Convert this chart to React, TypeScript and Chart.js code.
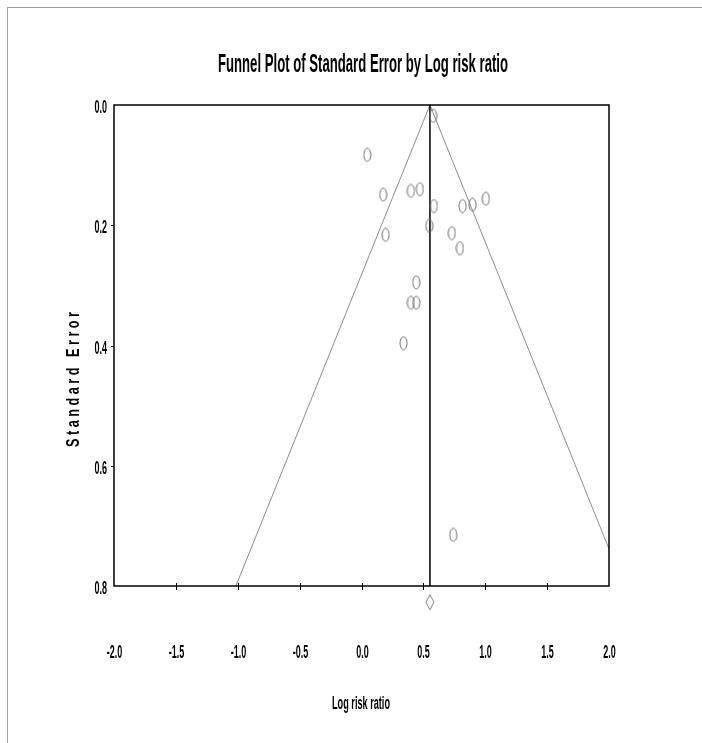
import React, { useEffect, useRef } from "react";
import { Chart, registerables } from "chart.js";
Chart.register(...registerables);

// ---- data ----
const logRiskRatio = [0.579, 0.046, 0.175, 0.399, 0.472, 0.585, 0.817, 0.897, 1.005, 0.195, 0.547, 0.73, 0.795, 0.442, 0.399, 0.442, 0.34, 0.741];
const standardError = [0.018, 0.083, 0.149, 0.143, 0.14, 0.168, 0.168, 0.166, 0.156, 0.216, 0.201, 0.213, 0.238, 0.295, 0.329, 0.329, 0.396, 0.715];
const pooledEffect = 0.553;
const pooledMarkerSE = 0.827;
const funnelZ = 1.96;
const xMin = -2;
const xMax = 2;
const xStep = 0.5;
const seMin = 0;
const seMax = 0.8;
const seStep = 0.2;
const titleText = "Funnel Plot of Standard Error by Log risk ratio";
const xTitle = "Log risk ratio";
const yTitle = "S t a n d a r d   E r r o r";

const FONT = '"Liberation Sans", Arial, sans-serif';

function ellipseCanvas(w: number, h: number, color: string) {
  const c = document.createElement("canvas");
  c.width = w + 2;
  c.height = h + 2;
  const ctx = c.getContext("2d")!;
  ctx.strokeStyle = color;
  ctx.lineWidth = 1;
  ctx.beginPath();
  ctx.ellipse(c.width / 2, c.height / 2, w / 2, h / 2, 0, 0, Math.PI * 2);
  ctx.stroke();
  return c;
}

function diamondCanvas(w: number, h: number, color: string) {
  const c = document.createElement("canvas");
  c.width = w + 2;
  c.height = h + 2;
  const ctx = c.getContext("2d")!;
  ctx.strokeStyle = color;
  ctx.lineWidth = 1;
  ctx.beginPath();
  ctx.moveTo(c.width / 2, 1);
  ctx.lineTo(c.width - 1, c.height / 2);
  ctx.lineTo(c.width / 2, c.height - 1);
  ctx.lineTo(1, c.height / 2);
  ctx.closePath();
  ctx.stroke();
  return c;
}

function drawScaled(
  ctx: CanvasRenderingContext2D,
  text: string,
  x: number,
  y: number,
  size: number,
  opts: { sx?: number; width?: number; align?: CanvasTextAlign; rotate?: number }
) {
  ctx.save();
  ctx.font = `bold ${size}px ${FONT}`;
  ctx.fillStyle = "#000";
  ctx.textBaseline = "alphabetic";
  ctx.textAlign = opts.align || "center";
  const w = ctx.measureText(text).width;
  const sx = opts.width ? opts.width / w : opts.sx || 1;
  ctx.translate(x, y);
  if (opts.rotate) ctx.rotate(opts.rotate);
  ctx.scale(sx, 1);
  ctx.fillText(text, 0, 0);
  ctx.restore();
}

const decorPlugin = {
  id: "decor",
  afterDraw(chart: any) {
    const { ctx, chartArea: a, scales } = chart;
    const xs = scales.x;
    const ys = scales.y;
    ctx.save();
    // frame
    ctx.strokeStyle = "#000";
    ctx.lineWidth = 1.5;
    ctx.strokeRect(a.left, a.top, a.right - a.left, a.bottom - a.top);
    // x tick marks + labels
    ctx.lineWidth = 1;
    xs.ticks.forEach((t: any) => {
      const px = Math.round(xs.getPixelForValue(t.value)) + 0.5;
      if (t.value > xMin + 1e-6 && t.value < xMax - 1e-6) {
        ctx.beginPath();
        ctx.moveTo(px, a.bottom - 3);
        ctx.lineTo(px, a.bottom + 4);
        ctx.stroke();
      }
      drawScaled(ctx, t.value.toFixed(1), px, 658, 18, { sx: 0.5 });
    });
    // y tick marks + labels
    ys.ticks.forEach((t: any) => {
      const py = Math.round(ys.getPixelForValue(t.value)) + 0.5;
      if (t.value > seMin + 1e-6 && t.value < seMax - 1e-6) {
        ctx.beginPath();
        ctx.moveTo(a.left - 3, py);
        ctx.lineTo(a.left, py);
        ctx.stroke();
      }
      drawScaled(ctx, t.value.toFixed(1), 107, py + 7, 18, { sx: 0.5, align: "right" });
    });
    ctx.restore();
    // titles
    drawScaled(ctx, titleText, 363, 72, 26, { width: 290 });
    drawScaled(ctx, xTitle, 361, 709, 18, { width: 58 });
    drawScaled(ctx, yTitle, 79, 379.5, 18, { width: 135, rotate: -Math.PI / 2 });
  },
};

export default function App() {
  const ref = useRef<HTMLCanvasElement>(null);
  useEffect(() => {
    const ellipse = ellipseCanvas(7, 13, "#6e6e6e");
    const diamond = diamondCanvas(8, 15, "#7a7a7a");
    const leftEnd = { x: pooledEffect - funnelZ * seMax, y: seMax };
    const rightEnd = { x: xMax, y: (xMax - pooledEffect) / funnelZ };
    const chart = new Chart(ref.current!, {
      type: "scatter",
      data: {
        datasets: [
          {
            label: "Studies",
            data: logRiskRatio.map((v, i) => ({ x: v, y: standardError[i] })),
            pointStyle: ellipse as any,
            pointRadius: 7,
            order: 0,
          },
          {
            label: "Pooled",
            data: [{ x: pooledEffect, y: pooledMarkerSE }],
            pointStyle: diamond as any,
            pointRadius: 40,
            clip: false as any,
            order: 1,
          },
          {
            type: "line",
            label: "Effect",
            data: [
              { x: pooledEffect, y: seMin },
              { x: pooledEffect, y: seMax },
            ],
            borderColor: "#000",
            borderWidth: 1.5,
            pointRadius: 0,
            order: 2,
          } as any,
          {
            type: "line",
            label: "Funnel",
            data: [leftEnd, { x: pooledEffect, y: seMin }, rightEnd],
            borderColor: "#8c8c8c",
            borderWidth: 1,
            pointRadius: 0,
            order: 3,
          } as any,
        ],
      },
      options: {
        responsive: false,
        animation: false,
        devicePixelRatio: 1,
        layout: { padding: { top: 105, right: 93, left: 0, bottom: 0 } },
        plugins: { legend: { display: false }, tooltip: { enabled: false }, title: { display: false } },
        scales: {
          x: {
            type: "linear",
            min: xMin,
            max: xMax,
            ticks: { stepSize: xStep, display: false },
            grid: { display: false, drawTicks: false },
            border: { display: false },
            afterFit: (s: any) => {
              s.height = 157;
            },
          },
          y: {
            type: "linear",
            reverse: true,
            min: seMin,
            max: seMax,
            ticks: { stepSize: seStep, display: false },
            grid: { display: false, drawTicks: false },
            border: { display: false },
            afterFit: (s: any) => {
              s.width = 114;
            },
          },
        },
      },
      plugins: [decorPlugin],
    });
    return () => chart.destroy();
  }, []);
  return (
    <>
      <div
        style={{
          position: "fixed",
          left: 7,
          top: 7,
          width: 695,
          height: 736,
          borderLeft: "1px solid #a0a0a0",
          borderTop: "1px solid #a0a0a0",
          boxSizing: "border-box",
        }}
      />
      <canvas ref={ref} width={702} height={743} style={{ position: "fixed", left: 0, top: 0, width: 702, height: 743 }} />
    </>
  );
}
